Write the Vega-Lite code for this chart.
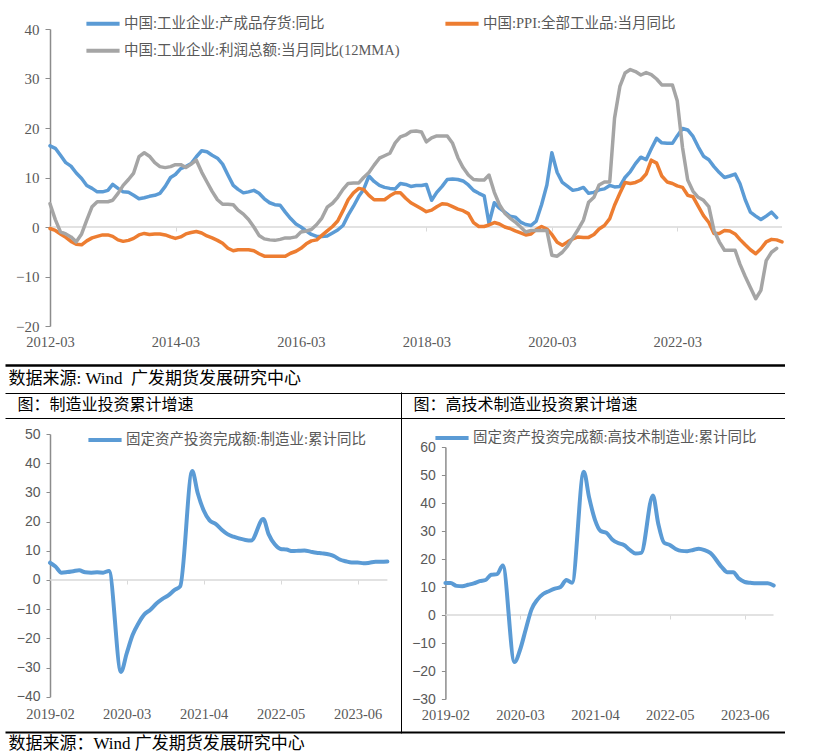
{
"$schema": "https://vega.github.io/schema/vega-lite/v6.json",
"padding": {"left": 5, "top": 0, "right": 0, "bottom": 0},
"bounds": "flush",
"spacing": 0,
"resolve": {"scale": {"color": "independent"}, "legend": {"color": "independent"}},
"config": {
  "view": {"stroke": null},
  "font": "Liberation Serif, Noto Sans CJK SC",
  "axis": {"labelFont": "Liberation Serif, Noto Sans CJK SC", "titleFont": "Liberation Serif, Noto Sans CJK SC", "labelColor": "#595959", "grid": false, "titleFontWeight": "normal", "labelOverlap": false, "labelFlush": false, "titleLimit": 1000, "labelFontSize": 14.5},
  "legend": {"labelFont": "Liberation Serif, Noto Sans CJK SC", "labelLimit": 0, "labelColor": "#595959", "labelFontSize": 14.5, "symbolType": "stroke", "symbolStrokeWidth": 4, "symbolSize": 1100, "labelOffset": 2, "title": null}
},
"datasets": {
"top": [
{"d":"2012-03","inv":16.4,"ppi":-0.3,"pr":4.7},{"d":"2012-04","inv":15.9,"ppi":-0.7,"pr":1.5},{"d":"2012-05","inv":14.5,"ppi":-1.4,"pr":-1.0},{"d":"2012-06","inv":13.0,"ppi":-2.1,"pr":-1.4},{"d":"2012-07","inv":12.3,"ppi":-2.9,"pr":-2.0},{"d":"2012-08","inv":10.9,"ppi":-3.5,"pr":-3.0},{"d":"2012-09","inv":9.8,"ppi":-3.6,"pr":-1.4},{"d":"2012-10","inv":8.4,"ppi":-2.8,"pr":1.4},{"d":"2012-11","inv":7.8,"ppi":-2.2,"pr":4.1},{"d":"2012-12","inv":7.1,"ppi":-1.9,"pr":5.1},
{"d":"2013-01","inv":7.1,"ppi":-1.6,"pr":5.1},{"d":"2013-02","inv":7.4,"ppi":-1.6,"pr":5.1},{"d":"2013-03","inv":8.6,"ppi":-1.9,"pr":5.4},{"d":"2013-04","inv":7.8,"ppi":-2.6,"pr":6.8},{"d":"2013-05","inv":7.1,"ppi":-2.9,"pr":8.4},{"d":"2013-06","inv":7.0,"ppi":-2.7,"pr":9.6},{"d":"2013-07","inv":6.4,"ppi":-2.3,"pr":10.9},{"d":"2013-08","inv":5.7,"ppi":-1.6,"pr":14.2},{"d":"2013-09","inv":5.9,"ppi":-1.3,"pr":15.0},{"d":"2013-10","inv":6.2,"ppi":-1.5,"pr":14.3},{"d":"2013-11","inv":6.4,"ppi":-1.4,"pr":13.0},{"d":"2013-12","inv":6.8,"ppi":-1.4,"pr":12.2},
{"d":"2014-01","inv":8.2,"ppi":-1.6,"pr":12.0},{"d":"2014-02","inv":10.0,"ppi":-2.0,"pr":12.2},{"d":"2014-03","inv":10.6,"ppi":-2.3,"pr":12.6},{"d":"2014-04","inv":11.8,"ppi":-2.0,"pr":12.6},{"d":"2014-05","inv":12.2,"ppi":-1.4,"pr":12.0},{"d":"2014-06","inv":12.8,"ppi":-1.1,"pr":12.7},{"d":"2014-07","inv":14.2,"ppi":-0.9,"pr":13.5},{"d":"2014-08","inv":15.4,"ppi":-1.2,"pr":11.1},{"d":"2014-09","inv":15.2,"ppi":-1.8,"pr":9.1},{"d":"2014-10","inv":14.5,"ppi":-2.2,"pr":7.2},{"d":"2014-11","inv":13.9,"ppi":-2.7,"pr":5.5},{"d":"2014-12","inv":12.7,"ppi":-3.3,"pr":4.6},
{"d":"2015-01","inv":10.5,"ppi":-4.3,"pr":4.6},{"d":"2015-02","inv":8.4,"ppi":-4.8,"pr":4.5},{"d":"2015-03","inv":7.6,"ppi":-4.6,"pr":3.4},{"d":"2015-04","inv":6.9,"ppi":-4.6,"pr":2.6},{"d":"2015-05","inv":7.1,"ppi":-4.6,"pr":1.5},{"d":"2015-06","inv":7.4,"ppi":-4.8,"pr":0.0},{"d":"2015-07","inv":6.8,"ppi":-5.4,"pr":-1.7},{"d":"2015-08","inv":5.7,"ppi":-5.9,"pr":-2.4},{"d":"2015-09","inv":4.9,"ppi":-5.9,"pr":-2.6},{"d":"2015-10","inv":4.5,"ppi":-5.9,"pr":-2.7},{"d":"2015-11","inv":4.4,"ppi":-5.9,"pr":-2.5},{"d":"2015-12","inv":3.0,"ppi":-5.9,"pr":-2.2},
{"d":"2016-01","inv":1.7,"ppi":-5.3,"pr":-2.2},{"d":"2016-02","inv":0.6,"ppi":-4.9,"pr":-2.0},{"d":"2016-03","inv":0.0,"ppi":-4.3,"pr":-1.0},{"d":"2016-04","inv":-0.8,"ppi":-3.4,"pr":-0.8},{"d":"2016-05","inv":-1.5,"ppi":-2.8,"pr":-0.5},{"d":"2016-06","inv":-1.9,"ppi":-2.6,"pr":0.5},{"d":"2016-07","inv":-1.9,"ppi":-1.7,"pr":1.8},{"d":"2016-08","inv":-1.8,"ppi":-0.8,"pr":4.0},{"d":"2016-09","inv":-1.2,"ppi":0.1,"pr":4.8},{"d":"2016-10","inv":-0.6,"ppi":1.2,"pr":6.0},{"d":"2016-11","inv":0.3,"ppi":3.3,"pr":7.6},{"d":"2016-12","inv":2.4,"ppi":5.5,"pr":8.8},
{"d":"2017-01","inv":4.2,"ppi":6.9,"pr":8.9},{"d":"2017-02","inv":6.2,"ppi":7.8,"pr":8.9},{"d":"2017-03","inv":7.6,"ppi":7.6,"pr":10.0},{"d":"2017-04","inv":10.3,"ppi":6.4,"pr":11.0},{"d":"2017-05","inv":9.2,"ppi":5.5,"pr":12.5},{"d":"2017-06","inv":8.4,"ppi":5.5,"pr":13.9},{"d":"2017-07","inv":8.0,"ppi":5.5,"pr":14.4},{"d":"2017-08","inv":7.8,"ppi":6.3,"pr":14.9},{"d":"2017-09","inv":7.7,"ppi":6.9,"pr":17.0},{"d":"2017-10","inv":8.8,"ppi":6.9,"pr":18.2},{"d":"2017-11","inv":8.6,"ppi":5.8,"pr":18.6},{"d":"2017-12","inv":8.2,"ppi":4.9,"pr":19.3},
{"d":"2018-01","inv":8.4,"ppi":4.3,"pr":19.4},{"d":"2018-02","inv":8.4,"ppi":3.7,"pr":19.2},{"d":"2018-03","inv":8.6,"ppi":3.1,"pr":17.2},{"d":"2018-04","inv":5.4,"ppi":3.4,"pr":18.0},{"d":"2018-05","inv":7.0,"ppi":4.1,"pr":18.4},{"d":"2018-06","inv":8.2,"ppi":4.7,"pr":18.4},{"d":"2018-07","inv":9.6,"ppi":4.6,"pr":18.4},{"d":"2018-08","inv":9.7,"ppi":4.1,"pr":16.9},{"d":"2018-09","inv":9.6,"ppi":3.6,"pr":14.0},{"d":"2018-10","inv":9.3,"ppi":3.3,"pr":12.0},{"d":"2018-11","inv":8.5,"ppi":2.7,"pr":10.5},{"d":"2018-12","inv":7.4,"ppi":0.9,"pr":9.6},
{"d":"2019-01","inv":6.8,"ppi":0.1,"pr":9.5},{"d":"2019-02","inv":6.3,"ppi":0.1,"pr":9.5},{"d":"2019-03","inv":0.7,"ppi":0.4,"pr":10.5},{"d":"2019-04","inv":4.9,"ppi":0.9,"pr":7.0},{"d":"2019-05","inv":3.8,"ppi":0.6,"pr":4.5},{"d":"2019-06","inv":3.0,"ppi":0.0,"pr":2.8},{"d":"2019-07","inv":2.2,"ppi":-0.3,"pr":1.8},{"d":"2019-08","inv":2.0,"ppi":-0.8,"pr":1.0},{"d":"2019-09","inv":1.0,"ppi":-1.2,"pr":0.0},{"d":"2019-10","inv":0.5,"ppi":-1.6,"pr":-1.0},{"d":"2019-11","inv":0.3,"ppi":-1.4,"pr":-0.7},{"d":"2019-12","inv":1.2,"ppi":-0.5,"pr":-0.7},
{"d":"2020-01","inv":4.5,"ppi":0.1,"pr":-0.7},{"d":"2020-02","inv":8.5,"ppi":-0.4,"pr":-0.7},{"d":"2020-03","inv":15.0,"ppi":-1.5,"pr":-5.7},{"d":"2020-04","inv":11.0,"ppi":-3.1,"pr":-5.9},{"d":"2020-05","inv":9.0,"ppi":-3.7,"pr":-5.1},{"d":"2020-06","inv":8.2,"ppi":-3.0,"pr":-3.8},{"d":"2020-07","inv":7.4,"ppi":-2.4,"pr":-2.2},{"d":"2020-08","inv":7.6,"ppi":-2.0,"pr":-0.5},{"d":"2020-09","inv":8.0,"ppi":-2.1,"pr":1.4},{"d":"2020-10","inv":6.8,"ppi":-2.1,"pr":5.0},{"d":"2020-11","inv":7.0,"ppi":-1.5,"pr":6.0},{"d":"2020-12","inv":7.5,"ppi":-0.4,"pr":8.5},
{"d":"2021-01","inv":7.7,"ppi":0.3,"pr":9.1},{"d":"2021-02","inv":8.4,"ppi":1.7,"pr":9.1},{"d":"2021-03","inv":8.1,"ppi":4.4,"pr":22.0},{"d":"2021-04","inv":8.2,"ppi":6.8,"pr":28.4},{"d":"2021-05","inv":10.0,"ppi":9.0,"pr":31.1},{"d":"2021-06","inv":11.2,"ppi":8.8,"pr":31.8},{"d":"2021-07","inv":12.8,"ppi":9.0,"pr":31.4},{"d":"2021-08","inv":14.1,"ppi":9.5,"pr":30.7},{"d":"2021-09","inv":13.6,"ppi":10.7,"pr":31.2},{"d":"2021-10","inv":15.8,"ppi":13.5,"pr":30.8},{"d":"2021-11","inv":17.9,"ppi":12.9,"pr":29.9},{"d":"2021-12","inv":17.0,"ppi":10.3,"pr":28.7},
{"d":"2022-01","inv":16.9,"ppi":9.1,"pr":28.7},{"d":"2022-02","inv":16.9,"ppi":8.8,"pr":28.7},{"d":"2022-03","inv":18.4,"ppi":8.3,"pr":25.5},{"d":"2022-04","inv":19.9,"ppi":8.0,"pr":16.0},{"d":"2022-05","inv":19.6,"ppi":6.4,"pr":9.5},{"d":"2022-06","inv":18.3,"ppi":6.1,"pr":7.2},{"d":"2022-07","inv":16.2,"ppi":4.2,"pr":6.0},{"d":"2022-08","inv":14.3,"ppi":2.3,"pr":5.4},{"d":"2022-09","inv":13.6,"ppi":0.9,"pr":4.1},{"d":"2022-10","inv":12.2,"ppi":-1.3,"pr":-0.7},{"d":"2022-11","inv":11.0,"ppi":-1.3,"pr":-3.0},{"d":"2022-12","inv":10.0,"ppi":-0.7,"pr":-4.7},
{"d":"2023-01","inv":10.3,"ppi":-0.8,"pr":-4.7},{"d":"2023-02","inv":10.7,"ppi":-1.4,"pr":-4.7},{"d":"2023-03","inv":8.8,"ppi":-2.5,"pr":-7.5},{"d":"2023-04","inv":5.5,"ppi":-3.6,"pr":-10.0},{"d":"2023-05","inv":3.0,"ppi":-4.6,"pr":-12.2},{"d":"2023-06","inv":2.2,"ppi":-5.4,"pr":-14.5},{"d":"2023-07","inv":1.5,"ppi":-4.4,"pr":-12.8},{"d":"2023-08","inv":2.2,"ppi":-3.0,"pr":-6.8},{"d":"2023-09","inv":3.0,"ppi":-2.5,"pr":-5.1},{"d":"2023-10","inv":1.9,"ppi":-2.6,"pr":-4.3},{"d":"2023-11","ppi":-3.0}
],
"mfg": [
{"d":"2019-02","v":5.9},{"d":"2019-03","v":4.6},{"d":"2019-04","v":2.5},{"d":"2019-05","v":2.7},{"d":"2019-06","v":3.0},{"d":"2019-07","v":3.3},{"d":"2019-08","v":2.6},{"d":"2019-09","v":2.5},{"d":"2019-10","v":2.6},{"d":"2019-11","v":2.5},{"d":"2019-12","v":3.1},
{"d":"2020-02","v":-31.5},{"d":"2020-03","v":-25.2},{"d":"2020-04","v":-18.8},{"d":"2020-05","v":-14.8},{"d":"2020-06","v":-11.7},{"d":"2020-07","v":-10.2},{"d":"2020-08","v":-8.1},{"d":"2020-09","v":-6.5},{"d":"2020-10","v":-5.3},{"d":"2020-11","v":-3.5},{"d":"2020-12","v":-2.2},
{"d":"2021-02","v":37.3},{"d":"2021-03","v":29.8},{"d":"2021-04","v":23.8},{"d":"2021-05","v":20.4},{"d":"2021-06","v":19.2},{"d":"2021-07","v":17.3},{"d":"2021-08","v":15.7},{"d":"2021-09","v":14.8},{"d":"2021-10","v":14.2},{"d":"2021-11","v":13.7},{"d":"2021-12","v":13.5},
{"d":"2022-02","v":20.9},{"d":"2022-03","v":15.6},{"d":"2022-04","v":12.2},{"d":"2022-05","v":10.6},{"d":"2022-06","v":10.4},{"d":"2022-07","v":9.9},{"d":"2022-08","v":10.0},{"d":"2022-09","v":10.1},{"d":"2022-10","v":9.7},{"d":"2022-11","v":9.3},{"d":"2022-12","v":9.1},
{"d":"2023-02","v":8.1},{"d":"2023-03","v":7.0},{"d":"2023-04","v":6.4},{"d":"2023-05","v":6.0},{"d":"2023-06","v":6.0},{"d":"2023-07","v":5.7},{"d":"2023-08","v":5.9},{"d":"2023-09","v":6.2},{"d":"2023-10","v":6.2},{"d":"2023-11","v":6.3}
],
"hitech": [
{"d":"2019-02","v":11.4},{"d":"2019-03","v":11.4},{"d":"2019-04","v":10.4},{"d":"2019-05","v":10.3},{"d":"2019-06","v":10.8},{"d":"2019-07","v":11.3},{"d":"2019-08","v":12.1},{"d":"2019-09","v":12.5},{"d":"2019-10","v":14.4},{"d":"2019-11","v":14.6},{"d":"2019-12","v":17.7},
{"d":"2020-02","v":-16.8},{"d":"2020-03","v":-12.5},{"d":"2020-04","v":-5.0},{"d":"2020-05","v":2.0},{"d":"2020-06","v":5.5},{"d":"2020-07","v":7.5},{"d":"2020-08","v":8.5},{"d":"2020-09","v":9.4},{"d":"2020-10","v":10.0},{"d":"2020-11","v":12.5},{"d":"2020-12","v":11.5},
{"d":"2021-02","v":51.2},{"d":"2021-03","v":42.0},{"d":"2021-04","v":34.0},{"d":"2021-05","v":30.0},{"d":"2021-06","v":29.3},{"d":"2021-07","v":27.0},{"d":"2021-08","v":25.7},{"d":"2021-09","v":25.0},{"d":"2021-10","v":23.3},{"d":"2021-11","v":22.0},{"d":"2021-12","v":22.2},
{"d":"2022-02","v":42.7},{"d":"2022-03","v":32.7},{"d":"2022-04","v":25.8},{"d":"2022-05","v":25.0},{"d":"2022-06","v":23.6},{"d":"2022-07","v":22.9},{"d":"2022-08","v":22.8},{"d":"2022-09","v":23.2},{"d":"2022-10","v":23.7},{"d":"2022-11","v":23.2},{"d":"2022-12","v":22.2},
{"d":"2023-02","v":17.0},{"d":"2023-03","v":15.3},{"d":"2023-04","v":15.3},{"d":"2023-05","v":13.0},{"d":"2023-06","v":11.8},{"d":"2023-07","v":11.5},{"d":"2023-08","v":11.3},{"d":"2023-09","v":11.3},{"d":"2023-10","v":11.3},{"d":"2023-11","v":10.5}
]
},
"vconcat": [
{
  "width": 780, "height": 393,
  "data": {"name": "top"},
  "layer": [
    {
      "mark": {"type": "rule", "color": "#D9D9D9", "strokeWidth": 1.5},
      "encoding": {
        "x": {"aggregate": "min", "field": "d", "type": "temporal",
          "scale": {"type": "utc", "domain": [{"year": 2011, "month": 6, "date": 12, "utc": true}, {"year": 2023, "month": 11, "date": 18, "hours": 12, "utc": true}], "range": [0, 780]},
          "axis": {"orient": "bottom", "values": [{"year": 2014, "month": 3, "date": 1, "utc": true}, {"year": 2016, "month": 3, "date": 1, "utc": true}, {"year": 2018, "month": 3, "date": 1, "utc": true}, {"year": 2020, "month": 3, "date": 1, "utc": true}, {"year": 2022, "month": 3, "date": 1, "utc": true}],
            "offset": -166, "domain": false, "ticks": true, "tickColor": "#D9D9D9", "tickSize": 4, "labels": false, "title": null}},
        "x2": {"aggregate": "max", "field": "d"},
        "y": {"datum": 0, "type": "quantitative",
          "scale": {"domain": [-28, 40], "range": [365.6, 29]},
          "axis": {"orient": "left", "values": [-27.88], "grid": true, "gridColor": "#000000", "gridWidth": 2.5, "domain": false, "ticks": false, "labels": false, "title": null}}
      }
    },
    {
      "mark": {"type": "line", "strokeWidth": 3.5, "strokeJoin": "round", "strokeCap": "round"},
      "encoding": {
        "x": {"field": "d", "type": "temporal",
          "scale": {"type": "utc", "domain": [{"year": 2012, "month": 3, "date": 1, "utc": true}, {"year": 2023, "month": 11, "date": 1, "utc": true}], "range": [45, 777]},
          "axis": {"orient": "bottom", "values": [{"year": 2012, "month": 3, "date": 1, "utc": true}, {"year": 2014, "month": 3, "date": 1, "utc": true}, {"year": 2016, "month": 3, "date": 1, "utc": true}, {"year": 2018, "month": 3, "date": 1, "utc": true}, {"year": 2020, "month": 3, "date": 1, "utc": true}, {"year": 2022, "month": 3, "date": 1, "utc": true}],
            "format": "%Y-%m", "offset": -57.5, "domain": false, "ticks": false, "labelPadding": 0, "labelFontSize": 14.5,
            "title": "数据来源: Wind\u00a0 广发期货发展研究中心", "titleX": 3, "titleY": 42.5, "titleAlign": "left", "titleBaseline": "middle", "titleFontSize": 17, "titleColor": "#000000"}},
        "y": {"field": "inv", "type": "quantitative",
          "scale": {"domain": [-20, 40], "range": [326, 29]},
          "axis": {"orient": "left", "values": [-20, -10, 0, 10, 20, 30, 40], "offset": -45, "domainColor": "#8c8c8c", "domainWidth": 1.5, "tickColor": "#8c8c8c", "tickSize": 5, "labelPadding": 6, "labelFontSize": 15, "title": null}},
        "color": {"datum": "中国:工业企业:产成品存货:同比", "type": "nominal",
          "scale": {"domain": ["中国:工业企业:产成品存货:同比", "中国:工业企业:利润总额:当月同比(12MMA)", "中国:PPI:全部工业品:当月同比"], "range": ["#5B9BD5", "#A5A5A5", "#ED7D31"]},
          "legend": {"orient": "none", "legendX": 79, "legendY": 4.7, "columns": 2, "columnPadding": 37, "rowPadding": -6.4}}
      }
    },
    {
      "mark": {"type": "line", "strokeWidth": 3.5, "strokeJoin": "round", "strokeCap": "round"},
      "encoding": {
        "x": {"field": "d", "type": "temporal",
          "scale": {"type": "utc", "domain": [{"year": 2012, "month": 3, "date": 1, "utc": true}, {"year": 2023, "month": 11, "date": 1, "utc": true}], "range": [45, 777]},
          "axis": null},
        "y": {"field": "ppi", "type": "quantitative", "scale": {"domain": [-20, 40], "range": [326, 29]}, "axis": null},
        "color": {"datum": "中国:PPI:全部工业品:当月同比", "type": "nominal"}
      }
    },
    {
      "mark": {"type": "line", "strokeWidth": 3.5, "strokeJoin": "round", "strokeCap": "round"},
      "encoding": {
        "x": {"field": "d", "type": "temporal",
          "scale": {"type": "utc", "domain": [{"year": 2012, "month": 3, "date": 1, "utc": true}, {"year": 2023, "month": 11, "date": 1, "utc": true}], "range": [45, 777]},
          "axis": null},
        "y": {"field": "pr", "type": "quantitative", "scale": {"domain": [-20, 40], "range": [326, 29]}, "axis": null},
        "color": {"datum": "中国:工业企业:利润总额:当月同比(12MMA)", "type": "nominal"}
      }
    }
  ],
  "resolve": {"scale": {"x": "independent", "y": "independent"}, "axis": {"x": "independent", "y": "independent"}}
},
{
  "hconcat": [
  {
    "width": 396, "height": 339,
    "data": {"name": "mfg"},
    "layer": [
      {
        "mark": {"type": "rule", "color": "#D9D9D9", "strokeWidth": 1.5},
        "encoding": {
          "x": {"aggregate": "min", "field": "d", "type": "temporal",
            "scale": {"type": "utc", "domain": [{"year": 2018, "month": 6, "date": 14, "utc": true}, {"year": 2024, "month": 1, "date": 10, "utc": true}], "range": [0, 396]},
            "axis": {"orient": "bottom", "values": [{"year": 2020, "month": 3, "date": 1, "utc": true}, {"year": 2021, "month": 4, "date": 1, "utc": true}, {"year": 2022, "month": 5, "date": 1, "utc": true}, {"year": 2023, "month": 6, "date": 1, "utc": true}],
              "offset": -152, "domain": false, "ticks": true, "tickColor": "#D9D9D9", "tickSize": 4, "labels": false, "title": null}},
          "x2": {"aggregate": "max", "field": "d"},
          "y": {"datum": 0, "type": "quantitative",
            "scale": {"domain": [-52.4, 64.4], "range": [340.0, -1.05]},
            "axis": {"orient": "right", "values": [64.04, 55.48, -52.05], "grid": true, "gridColor": "#000000", "gridWidth": {"condition": {"test": "datum.value < 0", "value": 2}, "value": 1}, "domain": true, "domainColor": "#000000", "domainWidth": 1, "ticks": false, "labels": false, "title": null}}
        }
      },
      {
        "mark": {"type": "line", "strokeWidth": 4, "interpolate": "monotone", "strokeJoin": "round", "strokeCap": "round"},
        "encoding": {
          "x": {"field": "d", "type": "temporal",
            "scale": {"type": "utc", "domain": [{"year": 2019, "month": 2, "date": 1, "utc": true}, {"year": 2023, "month": 11, "date": 1, "utc": true}], "range": [45, 382.4]},
            "axis": {"orient": "bottom", "values": [{"year": 2019, "month": 2, "date": 1, "utc": true}, {"year": 2020, "month": 3, "date": 1, "utc": true}, {"year": 2021, "month": 4, "date": 1, "utc": true}, {"year": 2022, "month": 5, "date": 1, "utc": true}, {"year": 2023, "month": 6, "date": 1, "utc": true}],
              "format": "%Y-%m", "offset": -25, "domain": false, "ticks": false, "labelPadding": 0, "labelFontSize": 14.5,
              "title": "数据来源：Wind 广发期货发展研究中心", "titleX": 3, "titleY": 36, "titleAlign": "left", "titleBaseline": "middle", "titleFontSize": 17, "titleColor": "#000000"}},
          "y": {"field": "v", "type": "quantitative",
            "scale": {"domain": [-40, 50], "range": [303.7, 41]},
            "axis": {"orient": "left", "values": [-40, -30, -20, -10, 0, 10, 20, 30, 40, 50], "offset": -45, "domainColor": "#8c8c8c", "domainWidth": 1.5, "tickColor": "#8c8c8c", "tickSize": 4, "labelPadding": 6, "labelFont": "Liberation Sans", "labelFontSize": 14,
              "title": "图：制造业投资累计增速", "titleAngle": 0, "titleX": -33, "titleY": 11, "titleAlign": "left", "titleBaseline": "middle", "titleFontSize": 16, "titleColor": "#000000"}},
          "color": {"datum": "固定资产投资完成额:制造业:累计同比", "type": "nominal",
            "scale": {"range": ["#5B9BD5"]},
            "legend": {"orient": "none", "legendX": 81, "legendY": 28}}
        }
      }
    ],
    "resolve": {"scale": {"x": "independent", "y": "independent"}, "axis": {"x": "independent", "y": "independent"}}
  },
  {
    "width": 384, "height": 339,
    "data": {"name": "hitech"},
    "layer": [
      {
        "mark": {"type": "rule", "color": "#D9D9D9", "strokeWidth": 1.5},
        "encoding": {
          "x": {"aggregate": "min", "field": "d", "type": "temporal",
            "scale": {"type": "utc", "domain": [{"year": 2018, "month": 6, "date": 10, "hours": 12, "utc": true}, {"year": 2023, "month": 12, "date": 31, "hours": 17, "utc": true}], "range": [0, 384]},
            "axis": {"orient": "bottom", "values": [{"year": 2020, "month": 3, "date": 1, "utc": true}, {"year": 2021, "month": 4, "date": 1, "utc": true}, {"year": 2022, "month": 5, "date": 1, "utc": true}, {"year": 2023, "month": 6, "date": 1, "utc": true}],
              "offset": -117, "domain": false, "ticks": true, "tickColor": "#D9D9D9", "tickSize": 4, "labels": false, "title": null}},
          "x2": {"aggregate": "max", "field": "d"},
          "y": {"datum": 0, "type": "quantitative",
            "scale": {"domain": [-42.2, 79.7], "range": [340.16, -1.16]},
            "axis": {"orient": "right", "values": [79.29, 70.36, -41.79], "grid": true, "gridColor": "#000000", "gridWidth": {"condition": {"test": "datum.value < 0", "value": 2}, "value": 1}, "domain": false, "ticks": false, "labels": false, "title": null}}
        }
      },
      {
        "mark": {"type": "line", "strokeWidth": 4, "interpolate": "monotone", "strokeJoin": "round", "strokeCap": "round"},
        "encoding": {
          "x": {"field": "d", "type": "temporal",
            "scale": {"type": "utc", "domain": [{"year": 2019, "month": 2, "date": 1, "utc": true}, {"year": 2023, "month": 11, "date": 1, "utc": true}], "range": [44.4, 372.7]},
            "axis": {"orient": "bottom", "values": [{"year": 2019, "month": 2, "date": 1, "utc": true}, {"year": 2020, "month": 3, "date": 1, "utc": true}, {"year": 2021, "month": 4, "date": 1, "utc": true}, {"year": 2022, "month": 5, "date": 1, "utc": true}, {"year": 2023, "month": 6, "date": 1, "utc": true}],
              "format": "%Y-%m", "offset": -23.3, "domain": false, "ticks": false, "labelPadding": 0, "labelFontSize": 14.5, "title": null}},
          "y": {"field": "v", "type": "quantitative",
            "scale": {"domain": [-30, 60], "range": [306, 54]},
            "axis": {"orient": "left", "values": [-30, -20, -10, 0, 10, 20, 30, 40, 50, 60], "offset": -44.4, "domainColor": "#8c8c8c", "domainWidth": 1.5, "tickColor": "#8c8c8c", "tickSize": 4, "labelPadding": 6, "labelFont": "Liberation Sans", "labelFontSize": 14,
              "title": "图：高技术制造业投资累计增速", "titleAngle": 0, "titleX": -32.4, "titleY": 11, "titleAlign": "left", "titleBaseline": "middle", "titleFontSize": 16, "titleColor": "#000000"}},
          "color": {"datum": "固定资产投资完成额:高技术制造业:累计同比", "type": "nominal",
            "scale": {"range": ["#5B9BD5"]},
            "legend": {"orient": "none", "legendX": 32, "legendY": 26}}
        }
      }
    ],
    "resolve": {"scale": {"x": "independent", "y": "independent"}, "axis": {"x": "independent", "y": "independent"}}
  }
  ],
  "spacing": 0,
  "bounds": "flush",
  "resolve": {"scale": {"color": "independent"}, "legend": {"color": "independent"}}
}
]
}
